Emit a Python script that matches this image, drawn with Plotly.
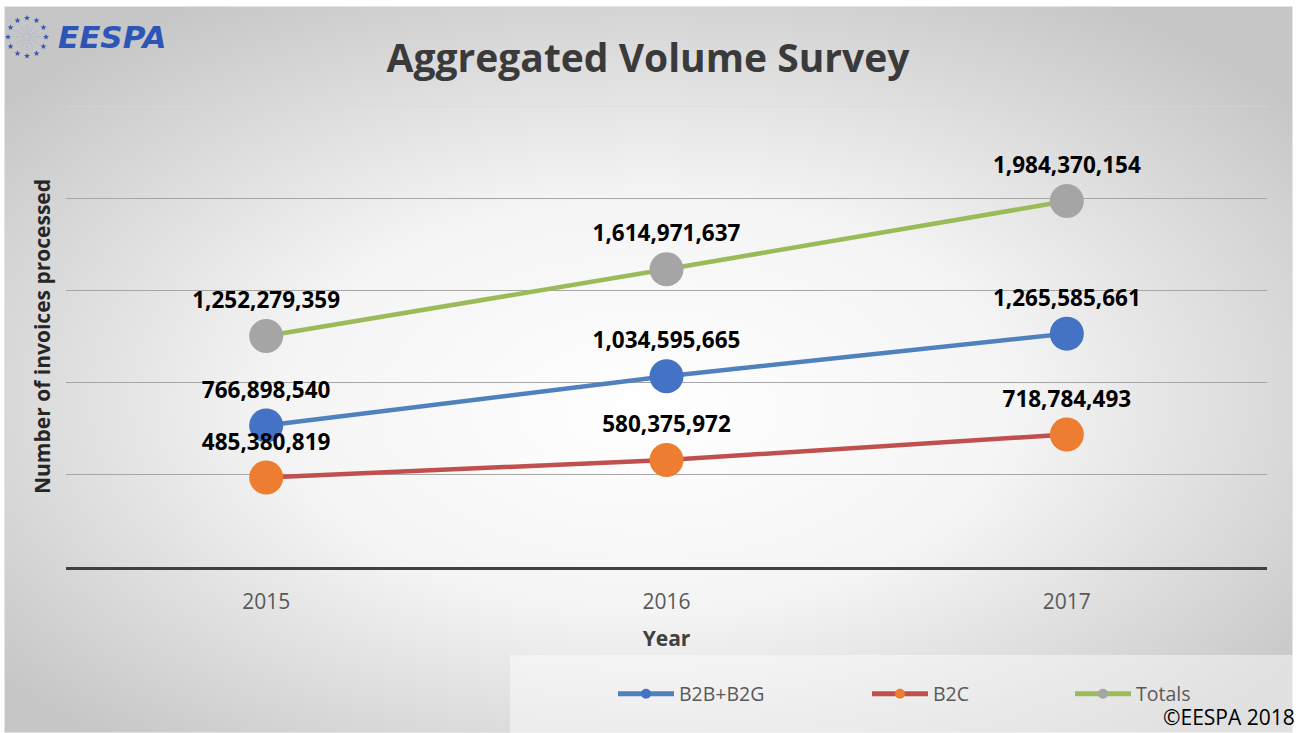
import base64
import math
import plotly.graph_objects as go

years = ["2015", "2016", "2017"]
b2b_b2g = [766898540, 1034595665, 1265585661]
b2c = [485380819, 580375972, 718784493]
totals = [1252279359, 1614971637, 1984370154]
series_names = ["B2B+B2G", "B2C", "Totals"]

W, H = 1306, 733
ML, MR, MT, MB = 66, 39, 106, 166
PW, PH = W - ML - MR, H - MT - MB

def px_x(px):
    return (px - ML) / PW

def px_y(py):
    return 1 - (py - MT) / PH

FONT = "Open Sans"

# decorative background (radial gradient + logo star ring)
stars = []
cx, cy, R = 27, 37, 19
for k in range(12):
    a = 2 * math.pi * k / 12
    sx, sy = cx + R * math.cos(a), cy + R * math.sin(a)
    pts = []
    for j in range(10):
        rr = 3.2 if j % 2 == 0 else 1.3
        b = -math.pi / 2 + j * math.pi / 5
        pts.append(f"{sx + rr*math.cos(b):.2f},{sy + rr*math.sin(b):.2f}")
    stars.append(f'<polygon points="{" ".join(pts)}" fill="#3a55b0"/>')
    ex, ey = cx + (R - 6) * math.cos(a), cy + (R - 6) * math.sin(a)
    stars.append(f'<line x1="{cx + 3*math.cos(a):.2f}" y1="{cy + 3*math.sin(a):.2f}" x2="{ex:.2f}" y2="{ey:.2f}" stroke="#9fb0dd" stroke-width="1" stroke-dasharray="1.5,1.5"/>')

svg = f'''<svg xmlns="http://www.w3.org/2000/svg" width="{W}" height="{H}" viewBox="0 0 {W} {H}">
<defs>
<radialGradient id="g" cx="0.5" cy="0.53" r="0.64" fx="0.5" fy="0.56">
<stop offset="0" stop-color="#ffffff"/>
<stop offset="0.45" stop-color="#f4f4f4"/>
<stop offset="1" stop-color="#c6c6c6"/>
</radialGradient>
</defs>
<rect x="0" y="0" width="{W}" height="{H}" fill="#ffffff"/>
<rect x="4" y="6" width="1289" height="{H-6}" fill="url(#g)"/>
<rect x="4.5" y="6.5" width="1288" height="{H-7}" fill="none" stroke="#e4e4e4" stroke-width="1"/>
{''.join(stars)}
</svg>'''
svg_uri = "data:image/svg+xml;base64," + base64.b64encode(svg.encode()).decode()

fig = go.Figure()

styles = [
    dict(line="#4F81BD", marker="#4472C4"),
    dict(line="#C0504D", marker="#ED7D31"),
    dict(line="#9BBB59", marker="#A5A5A5"),
]
data = [b2b_b2g, b2c, totals]

for name, vals, st in zip(series_names, data, styles):
    fig.add_trace(go.Scatter(
        x=years, y=vals, mode="lines+markers+text", name=name,
        line=dict(color=st["line"], width=4.5),
        marker=dict(color=st["marker"], size=34),
        text=[f"{v:,}" for v in vals], textposition="top center",
        textfont=dict(family=FONT, size=22.5, color="#000000", weight="bold"),
        showlegend=False, cliponaxis=False, hoverinfo="skip",
    ))

legend_names = ["legend", "legend2", "legend3"]
for name, st, lg in zip(series_names, styles, legend_names):
    fig.add_trace(go.Scatter(
        x=[None], y=[None], mode="lines+markers", name=name,
        line=dict(color=st["line"], width=5),
        marker=dict(color=st["marker"], size=10),
        showlegend=True, legend=lg,
    ))

leg_common = dict(orientation="h", xanchor="left", yanchor="middle", itemwidth=56,
                  bgcolor="rgba(0,0,0,0)", font=dict(family=FONT, size=19.5, color="#595959"))
legend_px = [613, 867, 1070]

layout_legends = {}
for lg, lx in zip(legend_names, legend_px):
    layout_legends[lg] = dict(leg_common, x=px_x(lx), y=px_y(694))

fig.update_layout(
    width=W, height=H,
    margin=dict(l=ML, r=MR, t=MT, b=MB),
    paper_bgcolor="#ffffff", plot_bgcolor="rgba(0,0,0,0)",
    images=[dict(source=svg_uri, xref="paper", yref="paper",
                 x=px_x(0), y=px_y(0), sizex=W / PW, sizey=H / PH,
                 xanchor="left", yanchor="top", sizing="stretch", layer="below")],
    shapes=[
        dict(type="rect", xref="paper", yref="paper",
             x0=px_x(510), x1=px_x(1293), y0=px_y(733), y1=px_y(655),
             fillcolor="rgba(255,255,255,0.45)", line=dict(width=0), layer="below"),
        dict(type="line", xref="paper", yref="y", x0=0, x1=1, y0=2500e6, y1=2500e6,
             line=dict(color="#dadada", width=1), layer="below"),
    ],
    title=dict(text="<b>Aggregated Volume Survey</b>", x=px_x(648), xanchor="center",
               y=1 - 58 / H, yanchor="middle", xref="paper", yref="container",
               font=dict(family=FONT, size=39, color="#3a3a3a")),
    xaxis=dict(type="category", range=[-0.5, 2.5], showgrid=False,
               showline=True, linecolor="#404040", linewidth=3,
               ticks="outside", ticklen=14, tickcolor="rgba(0,0,0,0)",
               tickfont=dict(family=FONT, size=21, color="#595959"),
               title=dict(text="<b>Year</b>", standoff=18,
                          font=dict(family=FONT, size=21, color="#404040")),
               fixedrange=True),
    yaxis=dict(range=[0, 2500e6], tickvals=[500e6, 1000e6, 1500e6, 2000e6],
               showticklabels=False, showgrid=True, gridcolor="#a6a6a6", gridwidth=1,
               zeroline=False, showline=False,
               title=dict(text="<b>Number of invoices processed</b>", standoff=8,
                          font=dict(family=FONT, size=21, color="#262626")),
               fixedrange=True),
    annotations=[
        dict(text="<b><i>EESPA</i></b>", xref="paper", yref="paper",
             x=px_x(56), y=px_y(37), xanchor="left", yanchor="middle", showarrow=False,
             font=dict(family="DejaVu Sans", size=31, color="#2d55b5")),
        dict(text="©EESPA 2018", xref="paper", yref="paper",
             x=px_x(1297), y=px_y(717), xanchor="right", yanchor="middle", showarrow=False,
             font=dict(family=FONT, size=21, color="#000000")),
    ],
    **layout_legends,
)

fig.write_html("out.html", config={"displayModeBar": False},
               post_script="document.body.style.margin='0px';")
